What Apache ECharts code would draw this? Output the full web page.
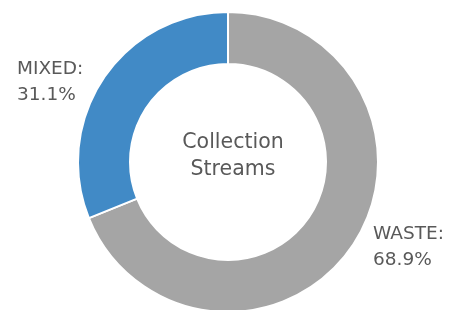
<!DOCTYPE html>
<html><head><meta charset="utf-8">
<script src="https://cdn.jsdelivr.net/npm/echarts@6/dist/echarts.min.js"></script>
<style>html,body{margin:0;padding:0;background:#fff}#c{width:453px;height:310px}</style>
</head><body><div id="c"></div>
<script>
var categories = ['WASTE', 'MIXED'];
var values = [68.9, 31.1];
var colors = ['#A5A5A5', '#418AC6'];
var centerTitle = 'Collection\nStreams';

var chart = echarts.init(document.getElementById('c'), null, {renderer: 'canvas'});
var labelPos = [{x: 373, y: 247}, {x: 17, y: 82}];
chart.setOption({
  animation: false,
  title: {
    text: centerTitle, left: 228, top: 124, textAlign: 'center',
    textStyle: {fontFamily: 'DejaVu Sans', fontWeight: 'normal', fontSize: 20.5, color: '#595959', lineHeight: 27}
  },
  series: [{
    type: 'pie',
    center: [228, 162],
    radius: [98, 150],
    startAngle: 90,
    clockwise: true,
    itemStyle: {borderColor: '#fff', borderWidth: 2},
    label: {
      show: true, position: 'outside', overflow: 'none', width: 120,
      formatter: function (p) { return p.name + ':\n' + p.value.toFixed(1) + '%'; },
      fontFamily: 'DejaVu Sans', fontSize: 18.5, color: '#595959', lineHeight: 26, align: 'left'
    },
    labelLine: {show: false},
    labelLayout: function (p) {
      var lp = labelPos[p.dataIndex];
      return {x: lp.x, y: lp.y, align: 'left', verticalAlign: 'middle'};
    },
    data: categories.map(function (c, i) {
      return {name: c, value: values[i], itemStyle: {color: colors[i]}};
    })
  }]
});
</script></body></html>
